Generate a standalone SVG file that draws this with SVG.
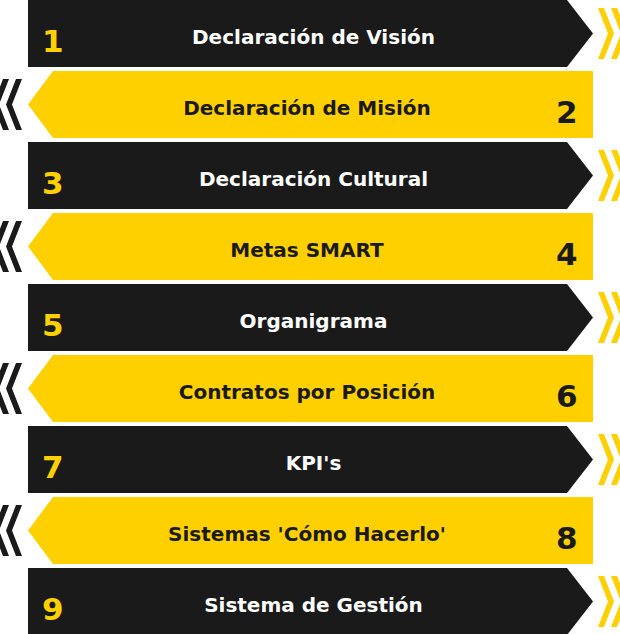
<svg xmlns="http://www.w3.org/2000/svg" width="620" height="634" viewBox="0 0 620 634">
<style>
.dk{fill:#1a1a1a}
.yl{fill:#ffd000}
.t{font-family:"DejaVu Sans",sans-serif;font-weight:bold;font-size:20px;text-anchor:middle}
.n{font-family:"DejaVu Sans",sans-serif;font-weight:bold;font-size:31px}
.tw{fill:#ffffff}
.td{fill:#1a1a1a}
.ny{fill:#ffd000}
</style>
<defs>
<g id="dband"><polygon points="28,0 567,0 593,33.5 567,67 28,67"/></g>
<g id="yband"><polygon points="53,0 593,0 593,67 53,67 28,33.5"/></g>
<g id="rchev"><polygon points="598,8 604,8 614,33.5 604,59 598,59 608,33.5"/><polygon points="611,8 617,8 627,33.5 617,59 611,59 621,33.5"/></g>
<g id="lchev"><polygon points="22,8 16,8 6,33.5 16,59 22,59 12,33.5"/><polygon points="9,8 3,8 -7,33.5 3,59 9,59 -1,33.5"/></g>
</defs>
<g id="node1" transform="translate(0,0)">
<use href="#dband" class="dk"/><use href="#rchev" class="yl"/>
<text x="42" y="52" class="n ny">1</text><text x="313.5" y="44" class="t tw">Declaración de Visión</text>
</g>
<g id="node2" transform="translate(0,71)">
<use href="#yband" class="yl"/><use href="#lchev" class="dk"/>
<text x="556" y="52" class="n td">2</text><text x="307" y="44" class="t td">Declaración de Misión</text>
</g>
<g id="node3" transform="translate(0,142)">
<use href="#dband" class="dk"/><use href="#rchev" class="yl"/>
<text x="42" y="52" class="n ny">3</text><text x="313.5" y="44" class="t tw">Declaración Cultural</text>
</g>
<g id="node4" transform="translate(0,213)">
<use href="#yband" class="yl"/><use href="#lchev" class="dk"/>
<text x="556" y="52" class="n td">4</text><text x="307" y="44" class="t td">Metas SMART</text>
</g>
<g id="node5" transform="translate(0,284)">
<use href="#dband" class="dk"/><use href="#rchev" class="yl"/>
<text x="42" y="52" class="n ny">5</text><text x="313.5" y="44" class="t tw">Organigrama</text>
</g>
<g id="node6" transform="translate(0,355)">
<use href="#yband" class="yl"/><use href="#lchev" class="dk"/>
<text x="556" y="52" class="n td">6</text><text x="307" y="44" class="t td">Contratos por Posición</text>
</g>
<g id="node7" transform="translate(0,426)">
<use href="#dband" class="dk"/><use href="#rchev" class="yl"/>
<text x="42" y="52" class="n ny">7</text><text x="313.5" y="44" class="t tw">KPI's</text>
</g>
<g id="node8" transform="translate(0,497)">
<use href="#yband" class="yl"/><use href="#lchev" class="dk"/>
<text x="556" y="52" class="n td">8</text><text x="307" y="44" class="t td">Sistemas 'Cómo Hacerlo'</text>
</g>
<g id="node9" transform="translate(0,568)">
<use href="#dband" class="dk"/><use href="#rchev" class="yl"/>
<text x="42" y="52" class="n ny">9</text><text x="313.5" y="44" class="t tw">Sistema de Gestión</text>
</g>
<g id="connectors"/>
</svg>
